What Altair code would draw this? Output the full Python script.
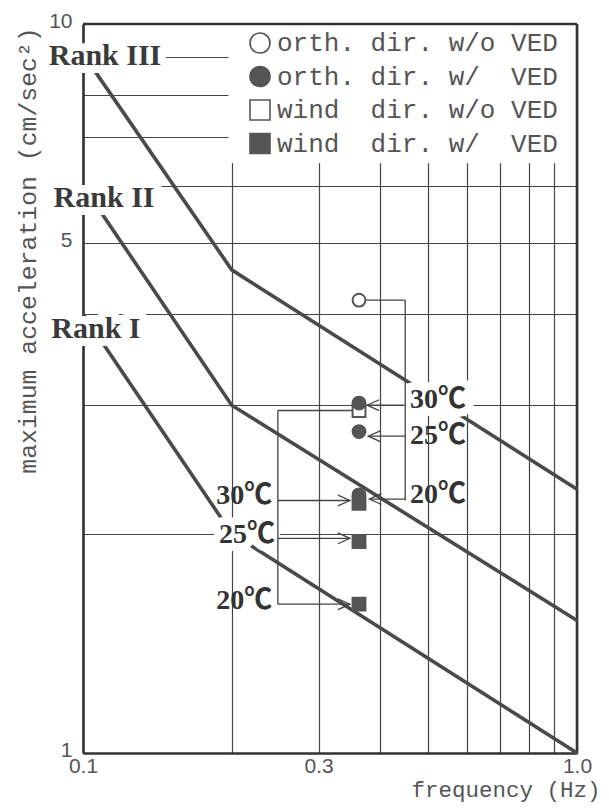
import altair as alt
import pandas as pd

# ---- axis grid / tick values ----
X_GRID = [0.1, 0.2, 0.3, 0.4, 0.5, 0.6, 0.7, 0.8, 0.9, 1.0]
X_LABELED = [0.1, 0.3, 1.0]
Y_GRID = [1, 2, 3, 4, 5, 6, 7, 8, 9, 10]
Y_LABELED = [1, 5, 10]

# ---- rank curves (frequency Hz, acceleration cm/s^2) ----
RANK_NAME = ["Rank I", "Rank I", "Rank I",
             "Rank II", "Rank II", "Rank II",
             "Rank III", "Rank III", "Rank III"]
RANK_FREQ = [0.1, 0.2, 1.0, 0.1, 0.2, 1.0, 0.1, 0.2, 1.0]
RANK_ACC = [4.0, 2.0, 1.0, 6.0, 3.0, 1.52, 9.1, 4.6, 2.3]

# ---- measured points ----
LEGEND_LABELS = ["orth. dir. w/o VED",
                 "orth. dir. w/\u00a0 VED",
                 "wind\u00a0 dir. w/o VED",
                 "wind\u00a0 dir. w/\u00a0 VED"]
PT_SERIES = [LEGEND_LABELS[2], LEGEND_LABELS[3], LEGEND_LABELS[3], LEGEND_LABELS[3],
             LEGEND_LABELS[0], LEGEND_LABELS[1], LEGEND_LABELS[1], LEGEND_LABELS[1]]
PT_FREQ = [0.362, 0.362, 0.362, 0.362, 0.362, 0.362, 0.362, 0.362]
PT_ACC = [2.95, 2.20, 1.95, 1.60, 4.18, 3.02, 2.76, 2.26]

# ---- leader lines ----
LEAD_F1 = [0.374, 0.449, 0.449, 0.449, 0.449, 0.350, 0.248, 0.248, 0.248, 0.248]
LEAD_A1 = [4.18, 4.18, 3.00, 2.72, 2.23, 2.95, 2.95, 2.22, 1.97, 1.60]
LEAD_F2 = [0.449, 0.449, 0.376, 0.378, 0.380, 0.248, 0.248, 0.347, 0.347, 0.347]
LEAD_A2 = [4.18, 2.22, 3.00, 2.72, 2.23, 2.95, 1.60, 2.22, 1.97, 1.60]

# ---- arrow tips ----
ARROW_L_F = [0.376, 0.378, 0.380]
ARROW_L_A = [3.00, 2.72, 2.23]
ARROW_R_F = [0.347, 0.347, 0.347]
ARROW_R_A = [2.22, 1.97, 1.60]

# ---- labels ----
RANK_LABEL_TEXT = ["Rank III", "Rank II", "Rank I"]
RANK_LABEL_F = [0.1108, 0.1103, 0.1062]
RANK_LABEL_A = [8.78, 5.61, 3.71]

TEMP_R_TEXT = ["30\u2103", "25\u2103", "20\u2103"]
TEMP_R_F = [0.459, 0.459, 0.459]
TEMP_R_A = [2.978, 2.656, 2.205]
TEMP_R_BOX = [True, False, False]

TEMP_L_TEXT = ["30\u2103", "25\u2103", "20\u2103"]
TEMP_L_F = [0.2415, 0.2448, 0.2415]
TEMP_L_A = [2.197, 1.944, 1.577]
TEMP_L_BOX = [False, True, False]

# ---- legend background region and frame ----
LEGEND_BOX = {"f": [0.197], "f2": [1.0], "a": [6.44], "a2": [10.0]}
FRAME = {"f": [0.1, 1.0], "f2": [1.0, 1.0], "a": [10.0, 1.0], "a2": [10.0, 10.0]}

INK = "#444444"
MONO = "Liberation Mono"
SERIF = "Liberation Serif, Noto Sans CJK JP"

xs = alt.Scale(type="log", domain=[0.1, 1.0], nice=False)
ys = alt.Scale(type="log", domain=[1, 10], nice=False)

x_axis = alt.Axis(
    values=X_GRID,
    labelExpr="indexof([0.1, 0.3, 1], datum.value) >= 0 ? format(datum.value, '.1f') : ''",
    title="frequency (Hz)", titleAnchor="end", titleAlign="right", titleBaseline="middle",
    titleX=517, titleY=36, titleFontSize=22.5, labelFlush=False, labelOverlap=False,
    labelPadding=2, ticks=False,
)
y_axis = alt.Axis(
    values=Y_GRID,
    labelExpr="indexof([1, 5, 10], datum.value) >= 0 ? datum.label : ''",
    title="maximum acceleration (cm/sec\u00b2)", titleAlign="center", titleBaseline="middle",
    titleAngle=270, titleX=-55, titleY=226, titleFontSize=24.8, labelOverlap=False,
    labelPadding=11, labelBaseline="middle", labelOffset=-3, ticks=False,
)


def X(field):
    return alt.X(field, type="quantitative", scale=xs, axis=x_axis)


def Y(field):
    return alt.Y(field, type="quantitative", scale=ys, axis=y_axis)


rank_df = pd.DataFrame({"rank": RANK_NAME, "f": RANK_FREQ, "a": RANK_ACC})
pt_df = pd.DataFrame({"series": PT_SERIES, "f": PT_FREQ, "a": PT_ACC})
lead_df = pd.DataFrame({"f": LEAD_F1, "a": LEAD_A1, "f2": LEAD_F2, "a2": LEAD_A2})
arl_df = pd.DataFrame({"f": ARROW_L_F, "a": ARROW_L_A})
arr_df = pd.DataFrame({"f": ARROW_R_F, "a": ARROW_R_A})
rank_lbl_df = pd.DataFrame({"t": RANK_LABEL_TEXT, "f": RANK_LABEL_F, "a": RANK_LABEL_A})
tr_df = pd.DataFrame({"t": TEMP_R_TEXT, "f": TEMP_R_F, "a": TEMP_R_A, "box": TEMP_R_BOX})
tl_df = pd.DataFrame({"t": TEMP_L_TEXT, "f": TEMP_L_F, "a": TEMP_L_A, "box": TEMP_L_BOX})
box_df = pd.DataFrame(LEGEND_BOX)
frame_df = pd.DataFrame(FRAME)

legend_box = alt.Chart(box_df).mark_rect(color="white").encode(
    x=X("f"), x2="f2", y=Y("a"), y2="a2")

frame = alt.Chart(frame_df).mark_rule(color="#333333", strokeWidth=2.6).encode(
    x=X("f"), x2="f2", y=Y("a"), y2="a2")

ranks = alt.Chart(rank_df).mark_line(color="#4a4a4a", strokeWidth=3.6).encode(
    x=X("f"), y=Y("a"), detail="rank:N")

halo_kw = dict(color="white", stroke="white", strokeWidth=16, strokeJoin="round")

rank_halo = alt.Chart(rank_lbl_df).mark_text(
    font=SERIF, fontSize=30, fontWeight="bold", align="center", baseline="alphabetic",
    **halo_kw).encode(x=X("f"), y=Y("a"), text="t:N")
rank_text = alt.Chart(rank_lbl_df).mark_text(
    font=SERIF, fontSize=30, fontWeight="bold", align="center", baseline="alphabetic",
    color="#3a3a3a").encode(x=X("f"), y=Y("a"), text="t:N")

tr_halo = alt.Chart(tr_df).transform_filter("datum.box").mark_text(
    font=SERIF, fontSize=28, fontWeight="bold", align="left", baseline="alphabetic",
    **halo_kw).encode(x=X("f"), y=Y("a"), text="t:N")
tl_halo = alt.Chart(tl_df).transform_filter("datum.box").mark_text(
    font=SERIF, fontSize=28, fontWeight="bold", align="right", baseline="alphabetic",
    **halo_kw).encode(x=X("f"), y=Y("a"), text="t:N")
tr_text = alt.Chart(tr_df).mark_text(
    font=SERIF, fontSize=28, fontWeight="bold", align="left", baseline="alphabetic",
    color="#333333").encode(x=X("f"), y=Y("a"), text="t:N")
tl_text = alt.Chart(tl_df).mark_text(
    font=SERIF, fontSize=28, fontWeight="bold", align="right", baseline="alphabetic",
    color="#333333").encode(x=X("f"), y=Y("a"), text="t:N")

leads = alt.Chart(lead_df).mark_rule(color=INK, strokeWidth=1.3).encode(
    x=X("f"), x2="f2", y=Y("a"), y2="a2")

arrow_l = alt.Chart(arl_df).mark_point(
    shape="M2,-0.9L0,0L2,0.9", size=144, filled=False, color=INK, strokeWidth=1.3,
    opacity=1).encode(x=X("f"), y=Y("a"))
arrow_r = alt.Chart(arr_df).mark_point(
    shape="M-2,-0.9L0,0L-2,0.9", size=144, filled=False, color=INK, strokeWidth=1.3,
    opacity=1).encode(x=X("f"), y=Y("a"))

legend = alt.Legend(
    title=None, orient="none", legendX=164, legendY=6, padding=0,
    labelFont=MONO, labelFontSize=26, labelColor="#555555", labelLimit=500,
    labelOffset=4, rowPadding=5.5, symbolSize=400,
    symbolStrokeWidth=1.6, zindex=1,
)

points = alt.Chart(pt_df).mark_point(
    filled=True, strokeWidth=2, size=165, opacity=1).encode(
    x=X("f"), y=Y("a"),
    shape=alt.Shape("series:N", scale=alt.Scale(
        domain=LEGEND_LABELS, range=["circle", "circle", "square", "square"]), legend=legend),
    fill=alt.Fill("series:N", scale=alt.Scale(
        domain=LEGEND_LABELS, range=["white", "#555555", "white", "#555555"]), legend=legend),
    stroke=alt.Stroke("series:N", scale=alt.Scale(
        domain=LEGEND_LABELS, range=["#555555", "#555555", "#555555", "#555555"]), legend=legend),
)

chart = alt.layer(
    legend_box, frame, ranks, rank_halo, tr_halo, tl_halo,
    rank_text, tr_text, tl_text, leads, arrow_l, arrow_r, points,
).properties(
    width=494, height=729,
    padding={"left": 75, "top": 16, "right": 24, "bottom": 51},
    autosize=alt.AutoSizeParams(type="none"),
    background="white",
).configure_view(stroke=None).configure_axis(
    grid=True, gridColor=INK, gridWidth=1.2, gridOpacity=1,
    domainColor="#333333", domainWidth=2.6,
    labelFont="Liberation Sans", labelFontSize=21, labelColor="#555555",
    titleFont=MONO, titleFontWeight="normal", titleColor="#555555",
)

chart.save("out.html", embed_options={"renderer": "svg", "actions": False})
